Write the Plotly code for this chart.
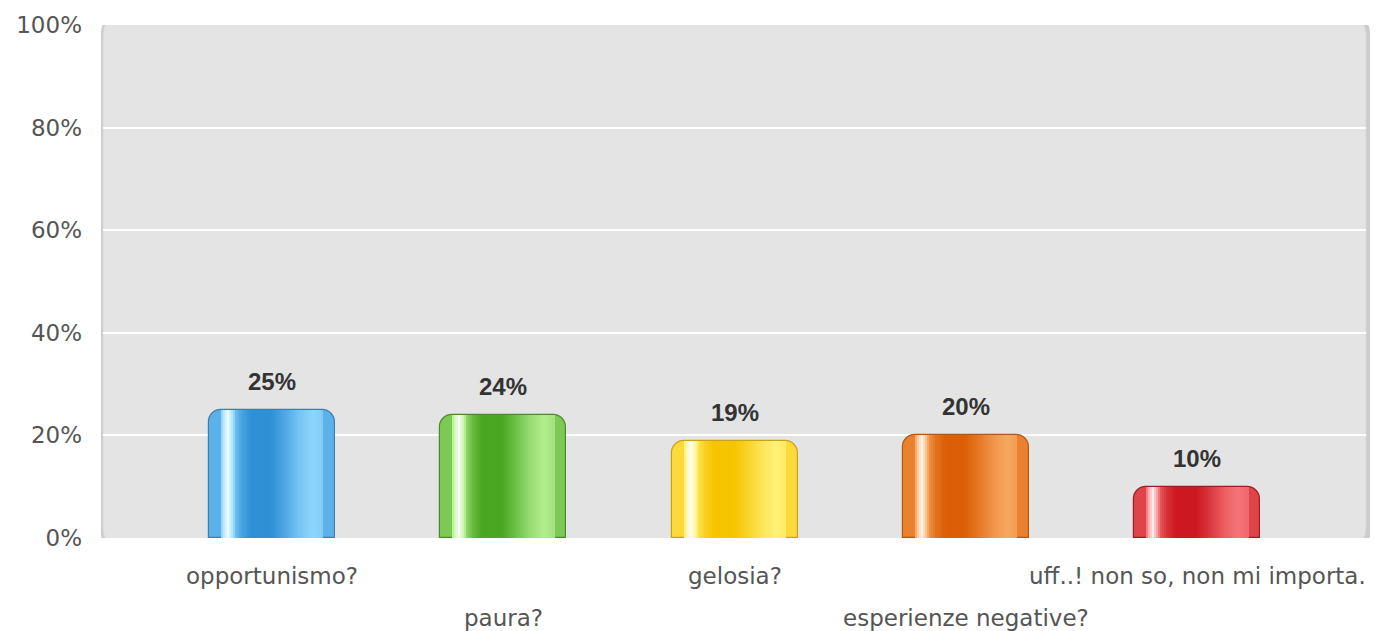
import plotly.graph_objects as go

# ---- data ----
categories = ["opportunismo?", "paura?", "gelosia?", "esperienze negative?", "uff..! non so, non mi importa."]
values = [25, 24, 19, 20, 10]
y_ticks = [0, 20, 40, 60, 80, 100]
y_tick_labels = ["0%", "20%", "40%", "60%", "80%", "100%"]

# ---- styles ----
dark_cols = ["#2f90d6", "#4aa722", "#f7c400", "#dc5f08", "#cc1820"]
light_cols = ["#92daff", "#b8f294", "#fff47e", "#f9ab64", "#f77a7e"]
edge_cols = ["#3a7fb0", "#4d8a2c", "#c9a317", "#b5570f", "#9e1c22"]

FONT = "DejaVu Sans"
W, H = 1381, 631
ML, MR, MT, MB = 103, 15, 22, 93
BAR_PX = 126
plot_w = W - ML - MR
xr = [-0.73, 4.73]
px_unit = (xr[1] - xr[0]) / plot_w
bar_w = BAR_PX * px_unit


def hex2rgb(h):
    h = h.lstrip("#")
    return [int(h[i:i + 2], 16) for i in (0, 2, 4)]


def mix(a, b, t):
    ra, rb = hex2rgb(a), hex2rgb(b)
    return "#%02x%02x%02x" % tuple(round(ra[i] + (rb[i] - ra[i]) * t) for i in range(3))


def tone_color(d, l, tone):
    if tone <= 1:
        return mix(d, l, tone)
    return mix(l, "#ffffff", tone - 1)


# horizontal shading profile across the bar (px from left edge, tone)
profile = [(12, 0.85), (15, 1.4), (19, 1.85), (23, 1.3), (27, 0.6),
           (33, 0.25), (42, 0.0), (62, 0.0), (75, 0.3), (90, 0.7), (104, 0.95), (114, 0.8)]


def tone_at(p):
    for (a, ta), (b, tb) in zip(profile, profile[1:]):
        if a <= p <= b:
            return ta + (tb - ta) * (p - a) / (b - a)
    return profile[-1][1]


x_idx = list(range(len(categories)))
fig = go.Figure()

# base bar
fig.add_trace(go.Bar(
    x=x_idx, y=values, width=bar_w,
    marker=dict(color=[mix(d, l, 0.45) for d, l in zip(dark_cols, light_cols)],
                line=dict(color=edge_cols, width=1.2), cornerradius=13),
    hoverinfo="skip", showlegend=False,
))

STEP = 2
for s0 in range(12, 114, STEP):
    tone = tone_at(s0 + STEP / 2)
    cols = [tone_color(d, l, tone) for d, l in zip(dark_cols, light_cols)]
    fig.add_trace(go.Bar(
        x=x_idx, y=values, width=(STEP + 0.4) * px_unit,
        offset=-bar_w / 2 + s0 * px_unit,
        marker=dict(color=cols, line=dict(width=0)),
        hoverinfo="skip", showlegend=False,
    ))

# value labels
for i, v in zip(x_idx, values):
    fig.add_annotation(x=i, y=v, text=f"<b>{v}%</b>", showarrow=False,
                       yanchor="bottom", yshift=13,
                       font=dict(family="Liberation Sans", size=24, color="#333333"))

# category labels (staggered)
for i, c in zip(x_idx, categories):
    fig.add_annotation(x=i, xref="x", y=0, yref="paper", text=c, showarrow=False,
                       yanchor="middle", yshift=-38 if i % 2 == 0 else -80,
                       font=dict(family=FONT, size=23, color="#555555"))

# rounded plot background with shadow
rx = 14 * px_unit / (xr[1] - xr[0])  # paper units
ry = 14 / ((H - MT - MB) / 100.0)


def rounded(x0, x1, y0, y1):
    return (f"M {x0 + rx},{y0} L {x1 - rx},{y0} Q {x1},{y0} {x1},{y0 + ry} "
            f"L {x1},{y1 - ry} Q {x1},{y1} {x1 - rx},{y1} L {x0 + rx},{y1} "
            f"Q {x0},{y1} {x0},{y1 - ry} L {x0},{y0 + ry} Q {x0},{y0} {x0 + rx},{y0} Z")


dx = 1.0 / plot_w
dy = 1.0 / ((H - MT - MB) / 100.0)
fig.add_shape(type="path", path=rounded(-2 * dx, 1 + 4 * dx, -1.0 - 4 * dy, 101.2),
              xref="paper", yref="y", fillcolor="#cccccc", line=dict(width=0), layer="below")
fig.add_shape(type="path", path=rounded(0, 1, -1.0, 101.0),
              xref="paper", yref="y", fillcolor="#e4e4e4", line=dict(color="#d6d6d6", width=1),
              layer="below")

fig.update_layout(
    width=W, height=H,
    margin=dict(l=ML, r=MR, t=MT, b=MB),
    paper_bgcolor="white", plot_bgcolor="rgba(0,0,0,0)",
    barmode="overlay", bargap=0,
    xaxis=dict(range=xr, showticklabels=False, showgrid=False, zeroline=False,
               showline=False, fixedrange=True),
    yaxis=dict(range=[0, 100], tickvals=y_ticks, ticktext=y_tick_labels,
               showgrid=True, gridcolor="white", gridwidth=2, zeroline=False,
               showline=False, ticks="", ticklabelstandoff=20,
               tickfont=dict(family=FONT, size=23, color="#555555")),
)
fig.write_html("out.html")
